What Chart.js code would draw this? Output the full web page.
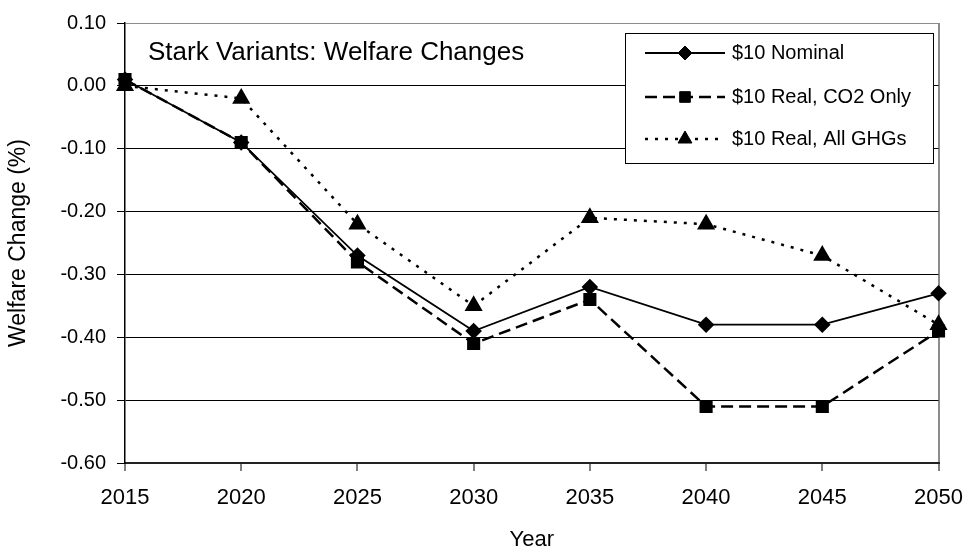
<!DOCTYPE html>
<html>
<head>
<meta charset="utf-8">
<script src="https://cdn.jsdelivr.net/npm/chart.js@4/dist/chart.umd.min.js"></script>
<style>
  html, body { margin: 0; padding: 0; background: #fff; }
  #wrap { width: 977px; height: 554px; }
</style>
</head>
<body>
<div id="wrap"><canvas id="c" width="977" height="554"></canvas></div>
<script>
const years = ['2015', '2020', '2025', '2030', '2035', '2040', '2045', '2050'];
const nominal = [0.01, -0.09, -0.27, -0.39, -0.32, -0.38, -0.38, -0.33];
const co2Only = [0.01, -0.09, -0.28, -0.41, -0.34, -0.51, -0.51, -0.39];
const allGhgs = [0.00, -0.02, -0.22, -0.35, -0.21, -0.22, -0.27, -0.38];
const chartTitle = 'Stark Variants: Welfare Changes';

const FONT = 'Liberation Sans, Arial, sans-serif';

// in-plot title and boxed legend, placed where Excel put them
const overlay = {
  id: 'overlay',
  afterDraw(chart) {
    const { ctx, chartArea } = chart;
    ctx.save();
    ctx.fillStyle = '#000';
    ctx.font = '26px ' + FONT;
    ctx.textBaseline = 'middle';
    ctx.textAlign = 'left';
    ctx.fillText(chartTitle, chartArea.left + 23, 53);

    const bx = 625, by = 33, bw = 308, bh = 130;
    ctx.fillStyle = '#fff';
    ctx.fillRect(bx, by, bw, bh);
    ctx.strokeStyle = '#000';
    ctx.lineWidth = 1;
    ctx.strokeRect(bx + 0.5, by + 0.5, bw, bh);

    ctx.font = '20px ' + FONT;
    const rows = [53, 97, 139];
    chart.data.datasets.forEach((ds, i) => {
      const y = rows[i];
      ctx.save();
      ctx.strokeStyle = '#000';
      ctx.lineWidth = ds.borderWidth;
      ctx.setLineDash(ds.borderDash || []);
      ctx.beginPath();
      ctx.moveTo(645, y);
      ctx.lineTo(725, y);
      ctx.stroke();
      ctx.restore();
      ctx.fillStyle = '#000';
      ctx.strokeStyle = '#000';
      Chart.helpers.drawPoint(ctx, {
        pointStyle: ds.pointStyle,
        radius: ds.pointRadius,
        borderWidth: 1
      }, 685, y);
      ctx.fillText(ds.label, 732, y);
    });
    ctx.restore();
  }
};

new Chart(document.getElementById('c'), {
  type: 'line',
  data: {
    labels: years,
    datasets: [
      {
        label: '$10 Nominal',
        data: nominal,
        borderColor: '#000',
        backgroundColor: '#000',
        borderWidth: 1.8,
        pointStyle: 'rectRot',
        pointRadius: 7,
        order: 3
      },
      {
        label: '$10 Real, CO2 Only',
        data: co2Only,
        borderColor: '#000',
        backgroundColor: '#000',
        borderWidth: 2.5,
        borderDash: [12, 6],
        pointStyle: 'rect',
        pointRadius: 7.5,
        order: 2
      },
      {
        label: '$10 Real, All GHGs',
        data: allGhgs,
        borderColor: '#000',
        backgroundColor: '#000',
        borderWidth: 2.5,
        borderDash: [3, 7],
        pointStyle: 'triangle',
        pointRadius: 8,
        order: 1
      }
    ]
  },
  options: {
    responsive: false,
    animation: false,
    devicePixelRatio: 1,
    layout: { padding: { top: 20, right: 31, left: 0, bottom: 0 } },
    elements: {
      line: { tension: 0, fill: false },
      point: { borderWidth: 1 }
    },
    plugins: {
      legend: { display: false },
      tooltip: { enabled: false }
    },
    scales: {
      x: {
        offset: false,
        afterFit(scale) { scale.height = 91; },
        grid: {
          color: (c) => (c.index === years.length - 1 ? '#8c8c8c' : 'rgba(0,0,0,0)'),
          lineWidth: 2,
          tickColor: '#000',
          tickWidth: 1,
          tickLength: 8
        },
        border: { color: '#222', width: 2 },
        ticks: {
          color: '#000',
          font: { family: FONT, size: 22 },
          padding: 14,
          maxRotation: 0
        },
        title: {
          display: true,
          text: 'Year',
          color: '#000',
          font: { family: FONT, size: 22 },
          padding: { top: 4, bottom: 1 }
        }
      },
      y: {
        min: -0.6,
        max: 0.1,
        afterFit(scale) { scale.width = 125; },
        grid: {
          color: (c) => (c.tick && Math.abs(c.tick.value - 0.1) < 1e-9 ? '#8c8c8c' : '#000'),
          lineWidth: 1,
          tickColor: '#000',
          tickLength: 8
        },
        border: { color: '#000', width: 1.5 },
        ticks: {
          stepSize: 0.1,
          color: '#000',
          font: { family: FONT, size: 20 },
          padding: 11,
          callback: (v) => (Math.abs(v) < 1e-9 ? 0 : v).toFixed(2)
        },
        title: {
          display: true,
          text: 'Welfare Change (%)',
          color: '#000',
          font: { family: FONT, size: 23 },
          padding: { top: 5, bottom: 4 }
        }
      }
    }
  },
  plugins: [overlay]
});
</script>
</body>
</html>
